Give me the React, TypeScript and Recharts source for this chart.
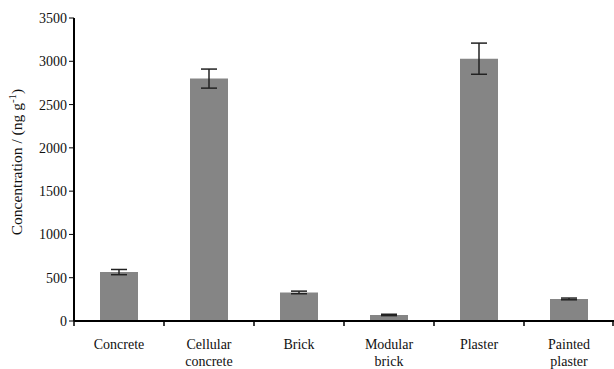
import React from "react";
import { BarChart, Bar, XAxis, YAxis, ErrorBar } from "recharts";

const categories = ["Concrete", "Cellular\nconcrete", "Brick", "Modular\nbrick", "Plaster", "Painted\nplaster"];
const concentrations = [565, 2800, 330, 70, 3030, 255];
const errors = [30, 110, 15, 8, 180, 10];
const yTicks = [0, 500, 1000, 1500, 2000, 2500, 3000, 3500];

const data = categories.map((name, i) => ({ name, value: concentrations[i], err: errors[i] }));

const FONT = "'Liberation Serif', 'Times New Roman', serif";

const XTick = (props: any) => {
  const { x, y, payload, index, width } = props;
  const half = width / categories.length / 2;
  const lines = String(payload.value).split("\n");
  return (
    <g>
      <line x1={x - half} y1={y - 8} x2={x - half} y2={y - 3} stroke="#000" strokeWidth={1.5} />
      {index === categories.length - 1 && (
        <line x1={x + half - 1} y1={y - 8} x2={x + half - 1} y2={y - 3} stroke="#000" strokeWidth={1.5} />
      )}
      <text x={x} y={y + 20} textAnchor="middle" fontFamily={FONT} fontSize={14} fill="#111">
        {lines.map((l, i) => (
          <tspan key={i} x={x} dy={i === 0 ? 0 : 17}>
            {l}
          </tspan>
        ))}
      </text>
    </g>
  );
};

const YLabel = () => (
  <text
    x={0}
    y={0}
    transform="translate(22,162) rotate(-90)"
    textAnchor="middle"
    fontFamily={FONT}
    fontSize={15.5}
    fill="#111"
  >
    Concentration / (ng g
    <tspan fontSize={11} dy={-6}>-1</tspan>
    <tspan dy={6}>)</tspan>
  </text>
);

export default function App() {
  return (
    <div style={{ position: "absolute", left: 0, top: 0 }}>
      <BarChart
        width={614}
        height={369}
        data={data}
        margin={{ top: 18, right: 0, bottom: 0, left: 0 }}
        barCategoryGap={26}
      >
        <XAxis
          dataKey="name"
          height={48}
          interval={0}
          tickLine={false}
          axisLine={{ stroke: "#000", strokeWidth: 2 }}
          tick={<XTick />}
        />
        <YAxis
          width={74}
          domain={[0, 3500]}
          ticks={yTicks}
          interval={0}
          tickSize={5}
          tickLine={{ stroke: "#000", strokeWidth: 1 }}
          axisLine={{ stroke: "#000", strokeWidth: 2 }}
          tick={{ fontFamily: FONT, fontSize: 14, fill: "#111" }}
          label={<YLabel />}
        />
        <Bar dataKey="value" fill="#858585" isAnimationActive={false}>
          <ErrorBar dataKey="err" width={8} stroke="#222" strokeWidth={1.5} />
        </Bar>
      </BarChart>
    </div>
  );
}
